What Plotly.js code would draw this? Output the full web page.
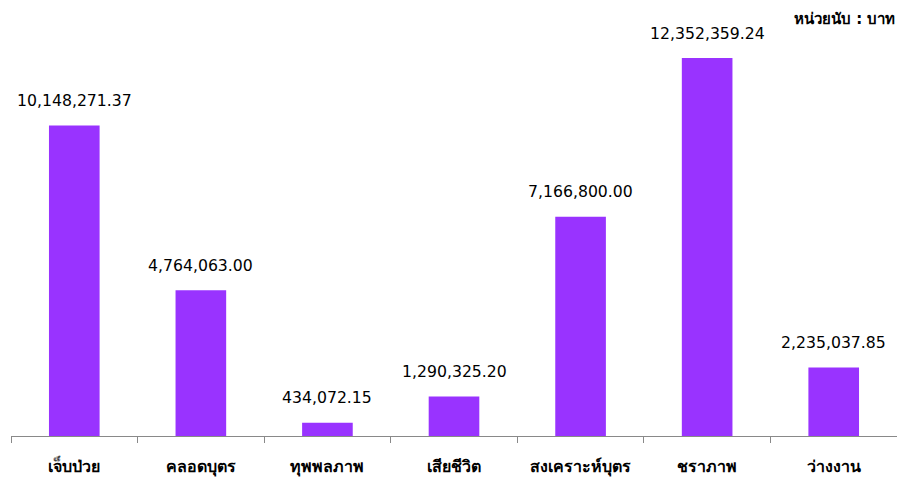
<!DOCTYPE html>
<html><head><meta charset="utf-8">
<script src="https://cdn.plot.ly/plotly-3.0.1.min.js"></script>
<style>body{margin:0;background:#fff}#c{width:897px;height:483px}</style>
</head><body><div id="c"></div>
<script>
var categories = ["เจ็บป่วย","คลอดบุตร","ทุพพลภาพ","เสียชีวิต","สงเคราะห์บุตร","ชราภาพ","ว่างงาน"];
var values = [10148271.37, 4764063.00, 434072.15, 1290325.20, 7166800.00, 12352359.24, 2235037.85];
var unitLabel = "หน่วยนับ : บาท";

function fmt(v){return v.toLocaleString('en-US',{minimumFractionDigits:2,maximumFractionDigits:2});}

var font = "Tahoma, 'DejaVu Sans', 'Noto Sans', sans-serif";
var ann = categories.map(function(c,i){
  return {x:c, y:values[i], xref:'x', yref:'y', text:fmt(values[i]), showarrow:false,
    yshift:25, font:{family:font, size:15.7, color:'#000'}};
});
ann.push({x:1, y:1, xref:'paper', yref:'paper', xanchor:'right', yanchor:'middle', yshift:1,
  text:'<b>'+unitLabel+'</b>', showarrow:false, font:{family:font, size:15, color:'#000'}});

Plotly.newPlot('c', [{
  type:'bar', x:categories, y:values, width:0.4,
  marker:{color:'#9933FF'}, hoverinfo:'none'
}], {
  width:897, height:483,
  margin:{l:11, r:0, t:20, b:47},
  paper_bgcolor:'#fff', plot_bgcolor:'#fff',
  showlegend:false,
  xaxis:{showline:true, linecolor:'#898989', linewidth:1, ticks:'outside', tickson:'boundaries',
    ticklen:6, tickcolor:'#898989', showgrid:false, tickfont:{family:font, size:16, color:'#000'},
    ticklabelstandoff:16,
    tickprefix:'<b>', ticksuffix:'</b>', fixedrange:true},
  yaxis:{range:[0, 13594000], visible:false, showgrid:false, zeroline:false, fixedrange:true},
  annotations:ann
}, {displayModeBar:false, staticPlot:true});
</script></body></html>
